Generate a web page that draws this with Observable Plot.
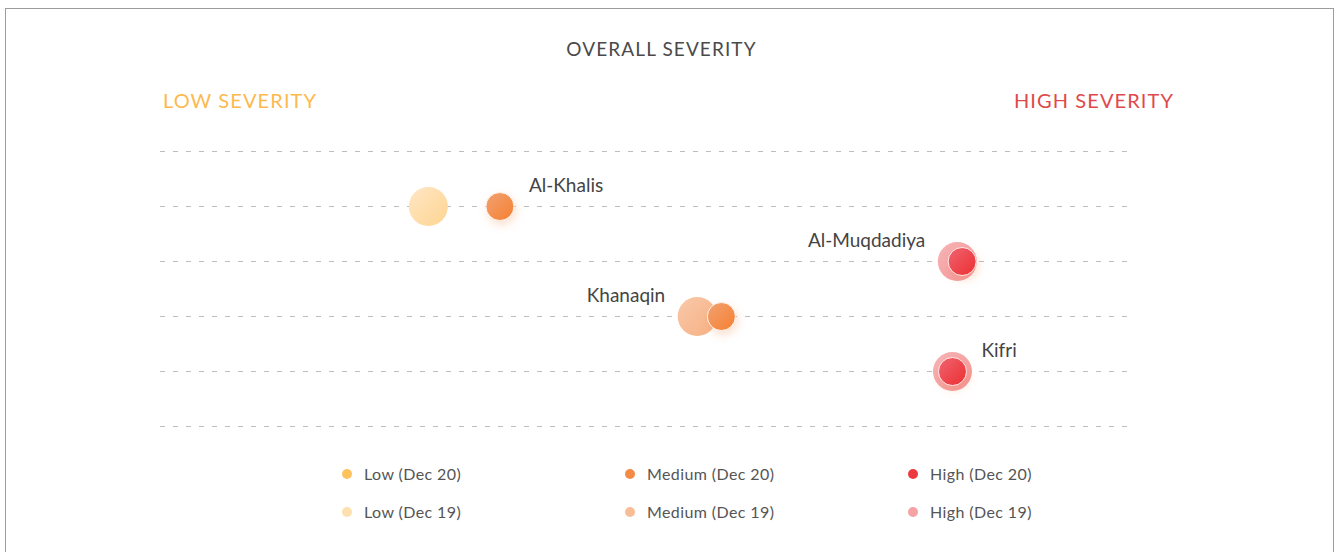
<!DOCTYPE html>
<html>
<head>
<meta charset="utf-8">
<script src="https://cdn.jsdelivr.net/npm/d3@7"></script>
<script src="https://cdn.jsdelivr.net/npm/@observablehq/plot@0.6"></script>
<style>
  html, body { margin: 0; padding: 0; background: #fff; width: 1339px; height: 552px; overflow: hidden; font-family: Lato, "Open Sans", sans-serif; }
  #frame { position: absolute; left: 5px; top: 8px; width: 1329px; height: 600px; border: 1.5px solid #9c9c9c; border-bottom: none; box-sizing: border-box; }
  .t { position: absolute; white-space: nowrap; line-height: 1; }
  #title { left: 0; width: 1323px; text-align: center; top: 39px; font-size: 19px; letter-spacing: 1.1px; color: #4a4a4a; }
  #low { left: 163px; top: 90px; font-size: 20px; letter-spacing: 1.1px; color: #fdb94e; }
  #high { right: 165px; top: 90px; font-size: 20px; letter-spacing: 1.1px; color: #e0494b; }
  #chart { position: absolute; left: 0; top: 130px; }
  #legend { position: absolute; left: 0; top: 0; }
  .li { position: absolute; font-size: 16px; letter-spacing: 0.4px; color: #555; line-height: 1; white-space: nowrap; }
  .li span.sw { position: absolute; left: -22px; top: 3px; width: 10px; height: 10px; border-radius: 50%; }
</style>
</head>
<body>
<div id="frame"></div>
<div class="t" id="title">OVERALL SEVERITY</div>
<div class="t" id="low">LOW SEVERITY</div>
<div class="t" id="high">HIGH SEVERITY</div>
<div id="chart"></div>
<div id="legend"></div>
<script>
// ---- data ----
const districts = ["Al-Khalis", "Al-Muqdadiya", "Khanaqin", "Kifri"];
const severityDec19 = [27.7, 82.4, 55.5, 81.9];
const severityDec20 = [35.1, 82.9, 58.0, 81.9];
const levelDec19 = ["Low", "High", "Medium", "High"];
const levelDec20 = ["Medium", "High", "Medium", "High"];
const labelSide = ["right", "left", "left", "right"];
const levels = ["Low", "Medium", "High"];
const periods = ["Dec 20", "Dec 19"];

// colors (base) per level/period
const baseColors = {
  "Low (Dec 20)": "#fdc25c", "Medium (Dec 20)": "#f48a44", "High (Dec 20)": "#ec3b3f",
  "Low (Dec 19)": "#fee0ae", "Medium (Dec 19)": "#f8bd95", "High (Dec 19)": "#f5a2a4"
};
const gradStops = {
  "Low (Dec 20)": ["#fed58a", "#fbb845"], "Medium (Dec 20)": ["#f2a173", "#f5802f"], "High (Dec 20)": ["#ef6472", "#ec2f30"],
  "Low (Dec 19)": ["#ffe6c4", "#fed592"], "Medium (Dec 19)": ["#f9c8aa", "#f6b182"], "High (Dec 19)": ["#f7b5b6", "#f39497"]
};
const keys = periods.flatMap(p => levels.map(l => `${l} (${p})`));

const rows19 = districts.map((d, i) => ({district: d, idx: i + 1, x: severityDec19[i], key: `${levelDec19[i]} (Dec 19)`}));
const rows20 = districts.map((d, i) => ({district: d, idx: i + 1, x: severityDec20[i], key: `${levelDec20[i]} (Dec 20)`}));
const labels = districts.map((d, i) => {
  const side = labelSide[i];
  const x = side === "right" ? Math.max(severityDec19[i], severityDec20[i]) : Math.min(severityDec19[i], severityDec20[i]);
  return {district: d, idx: i + 1, x, side};
});
const gridRows = d3.range(0, districts.length + 2);

const gradId = k => "g-" + k.replace(/[^A-Za-z0-9]/g, "");

const plot = Plot.plot({
  width: 1339,
  height: 320,
  marginLeft: 160,
  marginRight: 212,
  marginTop: 21,
  marginBottom: 24,
  style: {fontFamily: "Lato, 'Open Sans', sans-serif", background: "transparent", overflow: "visible"},
  x: {domain: [0, 100], axis: null},
  y: {domain: [0, districts.length + 1], reverse: true, axis: null},
  color: {domain: keys, range: keys.map(k => `url(#${gradId(k)})`)},
  marks: [
    Plot.ruleY(gridRows, {y: d => d, stroke: "#bdbdbd", strokeWidth: 1, strokeDasharray: "5,8"}),
    Plot.dot(rows19, {x: "x", y: "idx", r: 19.5, fill: "key", stroke: "none"}),
    Plot.dot(rows20, {x: "x", y: "idx", r: 14, fill: "key", stroke: "#fff", strokeWidth: 1, strokeOpacity: 0.85, className: "d20"}),
    Plot.text(labels.filter(d => d.side === "right"), {x: "x", y: "idx", text: "district", textAnchor: "start", dx: 29, dy: -21, fontSize: 19, fill: "#444"}),
    Plot.text(labels.filter(d => d.side === "left"), {x: "x", y: "idx", text: "district", textAnchor: "end", dx: -32, dy: -21, fontSize: 19, fill: "#444"})
  ]
});

// gradients & shadow
const svg = d3.select(plot);
const defs = svg.insert("defs", ":first-child");
keys.forEach(k => {
  const g = defs.append("linearGradient").attr("id", gradId(k)).attr("x1", "0").attr("y1", "0").attr("x2", "1").attr("y2", "1");
  g.append("stop").attr("offset", "0%").attr("stop-color", gradStops[k][0]);
  g.append("stop").attr("offset", "100%").attr("stop-color", gradStops[k][1]);
});
const f = defs.append("filter").attr("id", "shadow").attr("x", "-60%").attr("y", "-60%").attr("width", "220%").attr("height", "220%");
f.append("feDropShadow").attr("dx", 2).attr("dy", 4).attr("stdDeviation", 4).attr("flood-color", "#f08040").attr("flood-opacity", 0.25);
svg.selectAll(".d20 circle").attr("filter", "url(#shadow)");

document.getElementById("chart").appendChild(plot);

// legend
const legend = document.getElementById("legend");
const legendRows = [["Low (Dec 20)", "Medium (Dec 20)", "High (Dec 20)"], ["Low (Dec 19)", "Medium (Dec 19)", "High (Dec 19)"]];
legendRows.forEach((row, r) => {
  row.forEach((k, c) => {
    const el = document.createElement("div");
    el.className = "li";
    el.style.left = (364 + c * 283) + "px";
    el.style.top = (466 + r * 38) + "px";
    const sw = document.createElement("span");
    sw.className = "sw";
    sw.style.background = baseColors[k];
    el.appendChild(sw);
    el.appendChild(document.createTextNode(k));
    legend.appendChild(el);
  });
});
</script>
</body>
</html>
